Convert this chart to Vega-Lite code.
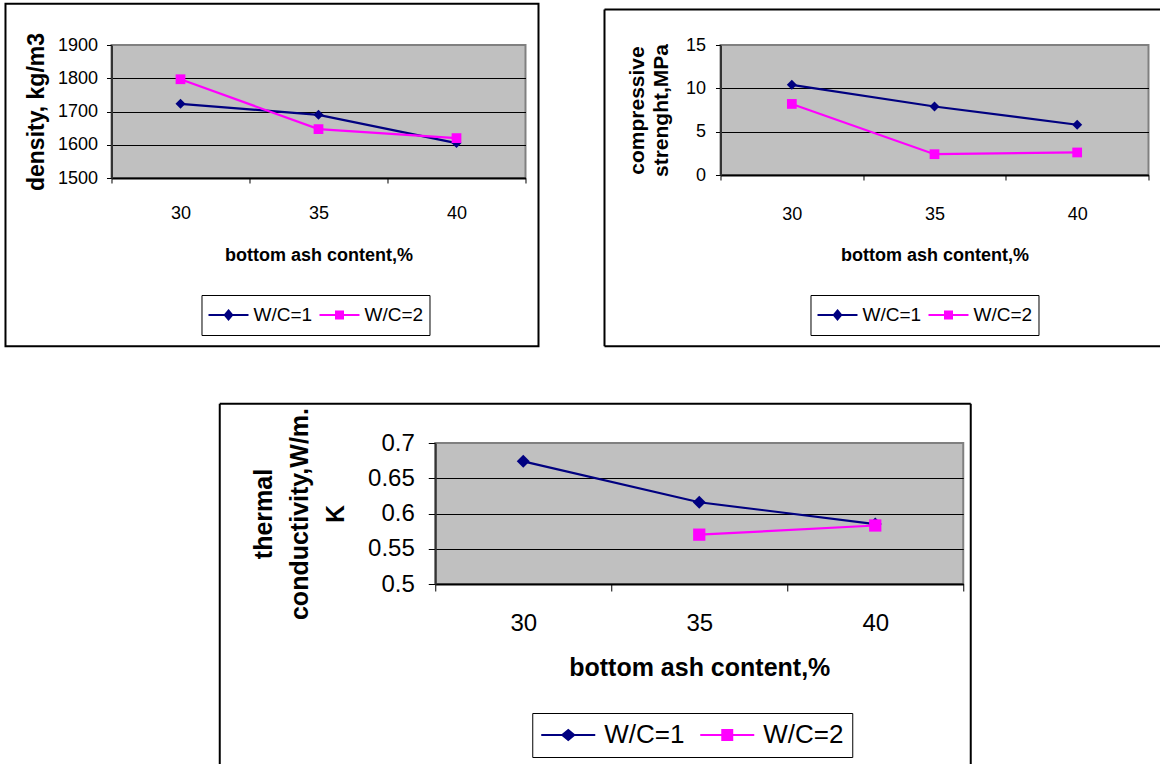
{
  "$schema": "https://vega.github.io/schema/vega-lite/v6.json",
  "background": "white",
  "padding": {"left": 3, "top": 1, "right": 0, "bottom": 0},
  "autosize": {"type": "pad"},
  "spacing": 52,
  "center": true,
  "resolve": {"scale": {"x": "independent", "y": "independent", "color": "independent", "shape": "independent"}},
  "vconcat": [
    {
      "hconcat": [
        {
          "width": 414,
          "height": 133,
          "data": {"values": [
            {"ash": 30, "s": "W/C=1", "v": 1723},
            {"ash": 35, "s": "W/C=1", "v": 1690},
            {"ash": 40, "s": "W/C=1", "v": 1605},
            {"ash": 30, "s": "W/C=2", "v": 1797},
            {"ash": 35, "s": "W/C=2", "v": 1647},
            {"ash": 40, "s": "W/C=2", "v": 1620}
          ]},
          "layer": [
            {
              "transform": [{"filter": "false"}],
              "mark": {"type": "point", "filled": false, "opacity": 1, "strokeWidth": 2},
              "encoding": {
                "x": {"field": "ash", "type": "quantitative"},
                "y": {"field": "v", "type": "quantitative"},
                "color": {"field": "s", "type": "nominal", "scale": {"domain": ["W/C=1", "W/C=2"], "range": ["#000080", "#ff00ff"]},
                  "legend": {"orient": "none", "legendX": 90, "legendY": 250, "direction": "horizontal", "title": null,
                    "labelFontSize": 19, "symbolSize": 1600, "symbolStrokeWidth": 2, "columnPadding": 6, "labelOffset": 4,
                    "padding": 6, "clipHeight": 28, "strokeColor": "black", "fillColor": "white"}},
                "shape": {"field": "s", "type": "nominal",
                  "scale": {"domain": ["W/C=1", "W/C=2"], "range": [
                    "M-1,0H1M0,-0.225L0.185,0L0,0.225L-0.185,0ZM0,-0.11L0.09,0L0,0.11L-0.09,0ZM0,-0.02L0.02,0L0,0.02L-0.02,0Z",
                    "M-1,0H1M-0.175,-0.175H0.175V0.175H-0.175ZM-0.09,-0.09H0.09V0.09H-0.09ZM-0.02,-0.02H0.02V0.02H-0.02Z"]},
                  "legend": {"orient": "none", "legendX": 90, "legendY": 250, "direction": "horizontal", "title": null,
                    "labelFontSize": 19, "symbolSize": 1600, "symbolStrokeWidth": 2, "columnPadding": 6, "labelOffset": 4,
                    "padding": 6, "clipHeight": 28, "strokeColor": "black", "fillColor": "white"}}
              }
            },
            {
              "mark": {"type": "line", "strokeWidth": 2.2},
              "encoding": {
                "x": {"field": "ash", "type": "quantitative", "scale": {"domain": [27.5, 42.5], "nice": false, "zero": false},
                  "axis": {"title": "bottom ash content,%", "values": [27.5, 30, 32.5, 35, 37.5, 40, 42.5], "tickCount": 20,
                    "labelExpr": "datum.value % 5 === 0 ? datum.label : ''",
                    "tickOpacity": {"condition": {"test": "datum.value % 5 === 0", "value": 0}, "value": 1},
                    "grid": false, "tickSize": 5, "labelPadding": 21, "labelFontSize": 18, "titleFontSize": 18, "titlePadding": 24,
                    "labelOverlap": false, "labelFlush": false, "labelBound": false, "domainColor": "black", "domainWidth": 2}},
                "y": {"field": "v", "type": "quantitative", "scale": {"domain": [1500, 1900], "nice": false, "zero": false},
                  "axis": {"title": "density,  kg/m3", "values": [1500, 1600, 1700, 1800, 1900], "tickCount": 20, "format": "d", "grid": true,
                    "gridColor": {"condition": {"test": "datum.value === 1900", "value": "#808080"}, "value": "black"},
                    "tickSize": 5, "labelPadding": 9, "labelFontSize": 18, "titleFontSize": 23, "titlePadding": 9, "labelOverlap": false,
                    "domainColor": "#333333", "domainWidth": 2}},
                "color": {"field": "s", "type": "nominal", "legend": null}
              }
            },
            {
              "transform": [{"filter": "datum.s === 'W/C=1'"}],
              "mark": {"type": "point", "filled": true, "opacity": 1, "size": 100, "shape": "diamond"},
              "encoding": {
                "x": {"field": "ash", "type": "quantitative"},
                "y": {"field": "v", "type": "quantitative"},
                "color": {"field": "s", "type": "nominal", "legend": null}
              }
            },
            {
              "transform": [{"filter": "datum.s === 'W/C=2'"}],
              "mark": {"type": "point", "filled": true, "opacity": 1, "size": 95, "shape": "square"},
              "encoding": {
                "x": {"field": "ash", "type": "quantitative"},
                "y": {"field": "v", "type": "quantitative"},
                "color": {"field": "s", "type": "nominal", "legend": null}
              }
            },
            {
              "data": {"values": [{}]},
              "mark": {"type": "rect", "fill": "transparent", "stroke": "black", "strokeWidth": 2},
              "encoding": {
                "x": {"datum": 23.659, "type": "quantitative"},
                "x2": {"datum": 42.971},
                "y": {"datum": 2023.9, "type": "quantitative"},
                "y2": {"datum": 994.1}
              }
            }
          ]
        },
        {
          "width": 428,
          "height": 130,
          "data": {"values": [
            {"ash": 30, "s": "W/C=1", "v": 10.4},
            {"ash": 35, "s": "W/C=1", "v": 7.9},
            {"ash": 40, "s": "W/C=1", "v": 5.8},
            {"ash": 30, "s": "W/C=2", "v": 8.2},
            {"ash": 35, "s": "W/C=2", "v": 2.4},
            {"ash": 40, "s": "W/C=2", "v": 2.6}
          ]},
          "layer": [
            {
              "transform": [{"filter": "false"}],
              "mark": {"type": "point", "filled": false, "opacity": 1, "strokeWidth": 2},
              "encoding": {
                "x": {"field": "ash", "type": "quantitative"},
                "y": {"field": "v", "type": "quantitative"},
                "color": {"field": "s", "type": "nominal", "scale": {"domain": ["W/C=1", "W/C=2"], "range": ["#000080", "#ff00ff"]},
                  "legend": {"orient": "none", "legendX": 90, "legendY": 250, "direction": "horizontal", "title": null,
                    "labelFontSize": 19, "symbolSize": 1600, "symbolStrokeWidth": 2, "columnPadding": 6, "labelOffset": 4,
                    "padding": 6, "clipHeight": 28, "strokeColor": "black", "fillColor": "white"}},
                "shape": {"field": "s", "type": "nominal",
                  "scale": {"domain": ["W/C=1", "W/C=2"], "range": [
                    "M-1,0H1M0,-0.225L0.185,0L0,0.225L-0.185,0ZM0,-0.11L0.09,0L0,0.11L-0.09,0ZM0,-0.02L0.02,0L0,0.02L-0.02,0Z",
                    "M-1,0H1M-0.175,-0.175H0.175V0.175H-0.175ZM-0.09,-0.09H0.09V0.09H-0.09ZM-0.02,-0.02H0.02V0.02H-0.02Z"]},
                  "legend": {"orient": "none", "legendX": 90, "legendY": 250, "direction": "horizontal", "title": null,
                    "labelFontSize": 19, "symbolSize": 1600, "symbolStrokeWidth": 2, "columnPadding": 6, "labelOffset": 4,
                    "padding": 6, "clipHeight": 28, "strokeColor": "black", "fillColor": "white"}}
              }
            },
            {
              "mark": {"type": "line", "strokeWidth": 2.2},
              "encoding": {
                "x": {"field": "ash", "type": "quantitative", "scale": {"domain": [27.5, 42.5], "nice": false, "zero": false},
                  "axis": {"title": "bottom ash content,%", "values": [27.5, 30, 32.5, 35, 37.5, 40, 42.5], "tickCount": 20,
                    "labelExpr": "datum.value % 5 === 0 ? datum.label : ''",
                    "tickOpacity": {"condition": {"test": "datum.value % 5 === 0", "value": 0}, "value": 1},
                    "grid": false, "tickSize": 5, "labelPadding": 25, "labelFontSize": 18, "titleFontSize": 18, "titlePadding": 23,
                    "labelOverlap": false, "labelFlush": false, "labelBound": false, "domainColor": "black", "domainWidth": 2}},
                "y": {"field": "v", "type": "quantitative", "scale": {"domain": [0, 15], "nice": false, "zero": false},
                  "axis": {"title": ["compressive", "strenght,MPa"], "values": [0, 5, 10, 15], "tickCount": 20, "format": "d", "grid": true,
                    "gridColor": {"condition": {"test": "datum.value === 15", "value": "#808080"}, "value": "black"},
                    "tickSize": 5, "labelPadding": 10, "labelFontSize": 18, "titleFontSize": 21, "titleLineHeight": 24, "titlePadding": 14, "labelOverlap": false,
                    "domainColor": "#333333", "domainWidth": 2}},
                "color": {"field": "s", "type": "nominal", "legend": null}
              }
            },
            {
              "transform": [{"filter": "datum.s === 'W/C=1'"}],
              "mark": {"type": "point", "filled": true, "opacity": 1, "size": 100, "shape": "diamond"},
              "encoding": {
                "x": {"field": "ash", "type": "quantitative"},
                "y": {"field": "v", "type": "quantitative"},
                "color": {"field": "s", "type": "nominal", "legend": null}
              }
            },
            {
              "transform": [{"filter": "datum.s === 'W/C=2'"}],
              "mark": {"type": "point", "filled": true, "opacity": 1, "size": 95, "shape": "square"},
              "encoding": {
                "x": {"field": "ash", "type": "quantitative"},
                "y": {"field": "v", "type": "quantitative"},
                "color": {"field": "s", "type": "nominal", "legend": null}
              }
            },
            {
              "data": {"values": [{}]},
              "mark": {"type": "rule", "stroke": "black", "strokeWidth": 2},
              "encoding": {
                "x": {"datum": 23.4345, "type": "quantitative"},
                "y": {"datum": 19.096, "type": "quantitative"},
                "y2": {"datum": -19.753}
              }
            },
            {
              "data": {"values": [{}]},
              "mark": {"type": "rule", "stroke": "black", "strokeWidth": 2},
              "encoding": {
                "x": {"datum": 23.4345, "type": "quantitative"},
                "x2": {"datum": 47.617},
                "y": {"datum": 19.096, "type": "quantitative"}
              }
            },
            {
              "data": {"values": [{}]},
              "mark": {"type": "rule", "stroke": "black", "strokeWidth": 2},
              "encoding": {
                "x": {"datum": 23.4345, "type": "quantitative"},
                "x2": {"datum": 47.617},
                "y": {"datum": -19.753, "type": "quantitative"}
              }
            }
          ]
        }
      ],
      "spacing": 61,
      "resolve": {"scale": {"x": "independent", "y": "independent", "color": "independent", "shape": "independent"}}
    },
    {
      "width": 528,
      "height": 141,
      "data": {"values": [
        {"ash": 30, "s": "W/C=1", "v": 0.674},
        {"ash": 35, "s": "W/C=1", "v": 0.616},
        {"ash": 40, "s": "W/C=1", "v": 0.585},
        {"ash": 35, "s": "W/C=2", "v": 0.57},
        {"ash": 40, "s": "W/C=2", "v": 0.583}
      ]},
      "layer": [
        {
          "transform": [{"filter": "false"}],
          "mark": {"type": "point", "filled": false, "opacity": 1, "strokeWidth": 2},
          "encoding": {
            "x": {"field": "ash", "type": "quantitative"},
            "y": {"field": "v", "type": "quantitative"},
            "color": {"field": "s", "type": "nominal", "scale": {"domain": ["W/C=1", "W/C=2"], "range": ["#000080", "#ff00ff"]},
              "legend": {"orient": "none", "legendX": 97, "legendY": 270, "direction": "horizontal", "title": null,
                "labelFontSize": 26, "symbolSize": 2916, "symbolStrokeWidth": 2, "columnPadding": 14, "labelOffset": 8,
                "padding": 8, "clipHeight": 28, "strokeColor": "black", "fillColor": "white"}},
            "shape": {"field": "s", "type": "nominal",
              "scale": {"domain": ["W/C=1", "W/C=2"], "range": [
                "M-1,0H1M0,-0.185L0.222,0L0,0.185L-0.222,0ZM0,-0.123L0.148,0L0,0.123L-0.148,0ZM0,-0.062L0.074,0L0,0.062L-0.074,0ZM0,-0.015L0.015,0L0,0.015L-0.015,0Z",
                "M-1,0H1M-0.185,-0.185H0.185V0.185H-0.185ZM-0.123,-0.123H0.123V0.123H-0.123ZM-0.062,-0.062H0.062V0.062H-0.062ZM-0.015,-0.015H0.015V0.015H-0.015Z"]},
              "legend": {"orient": "none", "legendX": 97, "legendY": 270, "direction": "horizontal", "title": null,
                "labelFontSize": 26, "symbolSize": 2916, "symbolStrokeWidth": 2, "columnPadding": 14, "labelOffset": 8,
                "padding": 8, "clipHeight": 28, "strokeColor": "black", "fillColor": "white"}}
          }
        },
        {
          "mark": {"type": "line", "strokeWidth": 2.2},
          "encoding": {
            "x": {"field": "ash", "type": "quantitative", "scale": {"domain": [27.5, 42.5], "nice": false, "zero": false},
              "axis": {"title": "bottom ash content,%", "values": [27.5, 30, 32.5, 35, 37.5, 40, 42.5], "tickCount": 20,
                "labelExpr": "datum.value % 5 === 0 ? datum.label : ''",
                "tickOpacity": {"condition": {"test": "datum.value % 5 === 0", "value": 0}, "value": 1},
                "grid": false, "tickSize": 7, "labelPadding": 20, "labelFontSize": 24, "titleFontSize": 25, "titlePadding": 20,
                "labelOverlap": false, "labelFlush": false, "labelBound": false, "domainColor": "black", "domainWidth": 2}},
            "y": {"field": "v", "type": "quantitative", "scale": {"domain": [0.5, 0.7], "nice": false, "zero": false},
              "axis": {"title": ["thermal", "conductivity,W/m.", "K"], "values": [0.5, 0.55, 0.6, 0.65, 0.7], "tickCount": 20, "format": "~g", "grid": true,
                "gridColor": {"condition": {"test": "datum.value === 0.7", "value": "#808080"}, "value": "black"},
                "tickSize": 7, "labelPadding": 14, "labelFontSize": 24, "titleFontSize": 25, "titleLineHeight": 36, "titlePadding": 19, "labelOverlap": false,
                "domainColor": "#333333", "domainWidth": 2}},
            "color": {"field": "s", "type": "nominal", "legend": null}
          }
        },
        {
          "transform": [{"filter": "datum.s === 'W/C=1'"}],
          "mark": {"type": "point", "filled": true, "opacity": 1, "size": 170, "shape": "diamond"},
          "encoding": {
            "x": {"field": "ash", "type": "quantitative"},
            "y": {"field": "v", "type": "quantitative"},
            "color": {"field": "s", "type": "nominal", "legend": null}
          }
        },
        {
          "transform": [{"filter": "datum.s === 'W/C=2'"}],
          "mark": {"type": "point", "filled": true, "opacity": 1, "size": 150, "shape": "square"},
          "encoding": {
            "x": {"field": "ash", "type": "quantitative"},
            "y": {"field": "v", "type": "quantitative"},
            "color": {"field": "s", "type": "nominal", "legend": null}
          }
        },
        {
          "data": {"values": [{}]},
          "mark": {"type": "rule", "stroke": "black", "strokeWidth": 2},
          "encoding": {
            "x": {"datum": 21.378, "type": "quantitative"},
            "y": {"datum": 0.75574, "type": "quantitative"},
            "y2": {"datum": 0.24468}
          }
        },
        {
          "data": {"values": [{}]},
          "mark": {"type": "rule", "stroke": "black", "strokeWidth": 2},
          "encoding": {
            "x": {"datum": 42.713, "type": "quantitative"},
            "y": {"datum": 0.75574, "type": "quantitative"},
            "y2": {"datum": 0.24468}
          }
        },
        {
          "data": {"values": [{}]},
          "mark": {"type": "rule", "stroke": "black", "strokeWidth": 2},
          "encoding": {
            "x": {"datum": 21.378, "type": "quantitative"},
            "x2": {"datum": 42.713},
            "y": {"datum": 0.75574, "type": "quantitative"}
          }
        }
      ]
    }
  ],
  "config": {
    "view": {"fill": "#c0c0c0", "stroke": "#808080", "strokeWidth": 2},
    "font": "Liberation Sans",
    "axis": {"labelFont": "Liberation Sans", "titleFont": "Liberation Sans", "labelColor": "black", "titleColor": "black",
      "tickColor": "black", "titleFontWeight": "bold", "labelFontWeight": "normal", "gridWidth": 1},
    "legend": {"labelFont": "Liberation Sans", "labelColor": "black", "labelLimit": 300}
  }
}
